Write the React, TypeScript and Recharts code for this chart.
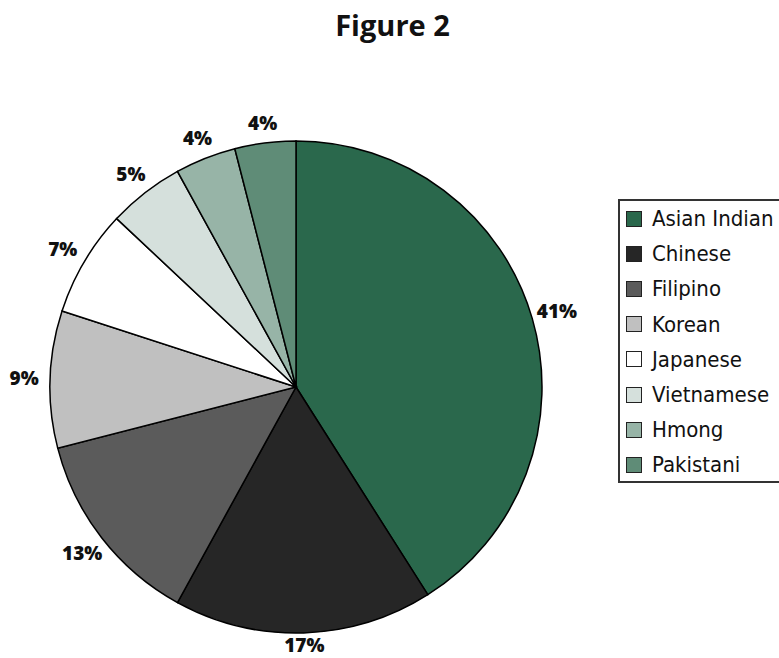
import React from "react";
import { PieChart, Pie, Cell } from "recharts";

const categories = ["Asian Indian", "Chinese", "Filipino", "Korean", "Japanese", "Vietnamese", "Hmong", "Pakistani"];
const values = [41, 17, 13, 9, 7, 5, 4, 4];
const colors = ["#2a684c", "#262626", "#5b5b5b", "#c0c0c0", "#ffffff", "#d5e0dc", "#97b4a7", "#5f8c77"];
const title = "Figure 2";

const data = categories.map((name, i) => ({ name, value: values[i] }));

const RAD = Math.PI / 180;

const renderLabel = (props: any) => {
  const { cx, cy, midAngle, outerRadius, value } = props;
  const c = Math.cos(-midAngle * RAD);
  const s = Math.sin(-midAngle * RAD);
  const r = outerRadius + 19 + 7 * Math.abs(c);
  const x = cx + r * c;
  const y = Math.min(cy + r * s, 645);
  return (
    <text
      x={x}
      y={y}
      textAnchor="middle"
      dominantBaseline="central"
      fontFamily="'Open Sans', sans-serif"
      fontWeight={800}
      fontSize={19}
      fill="#111"
    >
      {`${value}%`}
    </text>
  );
};

const LegendBox = () => (
  <div
    style={{
      position: "absolute",
      left: 618,
      top: 199,
      width: 170,
      height: 280,
      border: "2px solid #333",
      background: "#fff",
      boxSizing: "content-box",
    }}
  >
    {categories.map((c, i) => (
      <div key={c} style={{ height: 35.2, display: "flex", alignItems: "center" }}>
        <div
          style={{
            width: 14,
            height: 14,
            marginLeft: 6,
            background: colors[i],
            border: "1px solid #222",
          }}
        />
        <span
          style={{
            marginLeft: 10,
            fontFamily: "'DejaVu Sans Condensed', 'DejaVu Sans', sans-serif",
            fontStretch: "condensed",
            fontSize: 22,
            color: "#111",
            whiteSpace: "nowrap",
          }}
        >
          {c}
        </span>
      </div>
    ))}
  </div>
);

export default function App() {
  return (
    <div style={{ position: "absolute", left: 0, top: 0, width: 779, height: 658, overflow: "hidden", background: "#fff" }}>
      <div
        style={{
          position: "absolute",
          left: 0,
          width: 779,
          top: 5,
          textAlign: "center",
          paddingLeft: 6,
          boxSizing: "border-box",
          fontFamily: "'Open Sans', sans-serif",
          fontWeight: 700,
          fontSize: 29,
          color: "#111",
        }}
      >
        {title}
      </div>
      <PieChart width={779} height={658} style={{ position: "absolute", left: 0, top: 0 }}>
        <Pie
          data={data}
          dataKey="value"
          nameKey="name"
          cx={291}
          cy={382}
          outerRadius={246}
          startAngle={90}
          endAngle={-270}
          stroke="#000"
          strokeWidth={1.5}
          label={renderLabel}
          labelLine={false}
          isAnimationActive={false}
        >
          {data.map((d, i) => (
            <Cell key={d.name} fill={colors[i]} />
          ))}
        </Pie>
      </PieChart>
      <LegendBox />
    </div>
  );
}
